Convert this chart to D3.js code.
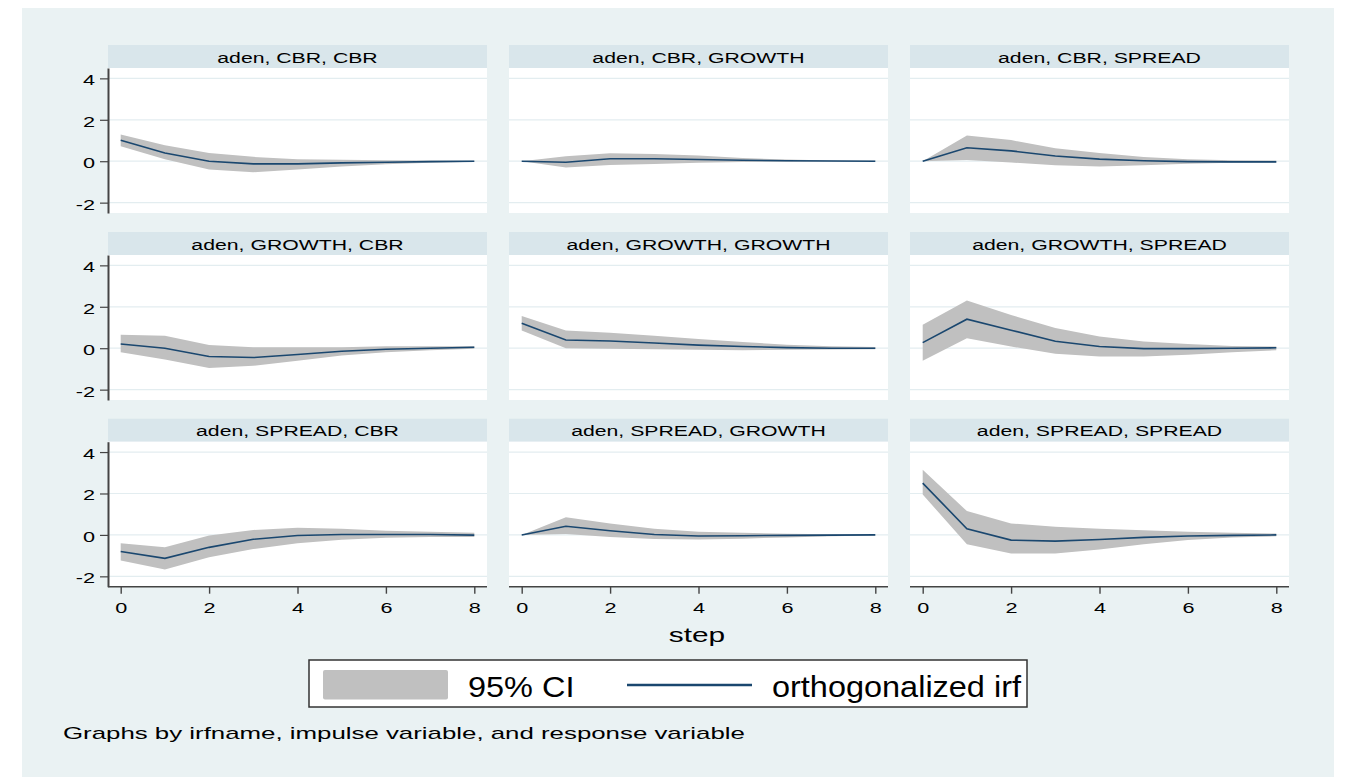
<!DOCTYPE html>
<html>
<head>
<meta charset="utf-8">
<script src="https://cdn.jsdelivr.net/npm/d3@7"></script>
<style>
  body { margin: 0; background: #ffffff; }
  text { font-family: "Liberation Sans", Arial, sans-serif; fill: #000; }
</style>
</head>
<body>
<div id="chart"></div>
<script>
// data: 3x3 panels, steps 0..8
var steps = [0, 1, 2, 3, 4, 5, 6, 7, 8];
var impulses = ["CBR", "GROWTH", "SPREAD"];
var responses = ["CBR", "GROWTH", "SPREAD"];
var yTicks = [-2, 0, 2, 4];
var xTicks = [0, 2, 4, 6, 8];

// orthogonalized irf, panels in row order (impulse) x column order (response)
var irf = [
    [1.01, 0.40, 0.00, -0.13, -0.13, -0.08, -0.05, -0.02, 0.00],
    [0.00, -0.05, 0.12, 0.12, 0.08, 0.05, 0.02, 0.01, 0.00],
    [0.00, 0.65, 0.50, 0.25, 0.10, 0.02, -0.02, -0.03, -0.03],
    [0.20, 0.00, -0.40, -0.45, -0.30, -0.15, -0.05, 0.00, 0.05],
    [1.20, 0.40, 0.35, 0.25, 0.15, 0.08, 0.03, 0.00, 0.00],
    [0.27, 1.40, 0.87, 0.34, 0.08, -0.02, -0.02, 0.00, 0.02],
    [-0.80, -1.13, -0.60, -0.21, -0.03, 0.02, 0.02, 0.02, -0.01],
    [0.00, 0.42, 0.20, 0.02, -0.05, -0.04, -0.02, -0.01, 0.00],
    [2.50, 0.30, -0.25, -0.30, -0.22, -0.12, -0.05, -0.02, 0.00]
];
// 95% CI bounds
var ciLower = [
    [0.72, 0.10, -0.40, -0.53, -0.40, -0.25, -0.15, -0.07, -0.03],
    [0.00, -0.30, -0.18, -0.13, -0.08, -0.04, -0.02, -0.01, -0.01],
    [0.00, 0.06, -0.06, -0.20, -0.25, -0.20, -0.12, -0.08, -0.06],
    [-0.20, -0.55, -0.95, -0.85, -0.60, -0.35, -0.20, -0.10, -0.03],
    [0.85, 0.00, -0.02, -0.05, -0.08, -0.10, -0.08, -0.06, -0.05],
    [-0.60, 0.48, 0.08, -0.27, -0.40, -0.40, -0.32, -0.20, -0.10],
    [-1.24, -1.67, -1.08, -0.68, -0.40, -0.23, -0.14, -0.10, -0.10],
    [0.00, 0.05, -0.10, -0.20, -0.22, -0.18, -0.12, -0.06, -0.03],
    [1.95, -0.45, -0.90, -0.90, -0.70, -0.45, -0.25, -0.12, -0.07]
];
var ciUpper = [
    [1.29, 0.77, 0.40, 0.21, 0.10, 0.07, 0.05, 0.03, 0.02],
    [0.00, 0.24, 0.38, 0.35, 0.27, 0.15, 0.08, 0.04, 0.02],
    [0.00, 1.24, 1.02, 0.62, 0.40, 0.20, 0.10, 0.05, 0.03],
    [0.65, 0.60, 0.15, 0.05, 0.05, 0.05, 0.10, 0.10, 0.10],
    [1.55, 0.85, 0.75, 0.60, 0.45, 0.30, 0.17, 0.10, 0.06],
    [1.13, 2.30, 1.60, 0.97, 0.56, 0.32, 0.20, 0.11, 0.08],
    [-0.40, -0.60, -0.03, 0.24, 0.34, 0.30, 0.20, 0.15, 0.11],
    [0.00, 0.85, 0.55, 0.30, 0.15, 0.10, 0.06, 0.03, 0.02],
    [3.15, 1.15, 0.55, 0.40, 0.30, 0.22, 0.15, 0.10, 0.07]
];

// layout
var W = 1348, H = 780;
var colLeft = [108, 509, 910],
    rowTop = [45, 232, 418.7],
    panelW = 379,
    headerH = 23,
    plotH = 145;

var navy = "#1a476f",
    ciGray = "#c0c0c0",
    regionBg = "#eaf2f3",
    stripBg = "#d9e6eb",
    gridCol = "#e3edf0";

// the picture is stretched horizontally, so text gets a scaleX
function stext(sel, x, y, str, size, sx, anchor) {
    return sel.append("text")
        .attr("transform", "translate(" + x + "," + y + ") scale(" + sx + ",1)")
        .attr("text-anchor", anchor || "start")
        .style("font-size", size + "px")
        .text(str);
}

var svg = d3.select("#chart").append("svg")
    .attr("width", W)
    .attr("height", H);

svg.append("rect").attr("width", W).attr("height", H).attr("fill", "#fff");
svg.append("rect")
    .attr("x", 22).attr("y", 8)
    .attr("width", 1312).attr("height", 769)
    .attr("fill", regionBg);

var x = d3.scaleLinear().domain([0, 8]).range([12.7, panelW - 12.7]);
var y = d3.scaleLinear().domain([-2.5, 4.5]).range([plotH, 0]);

var area = d3.area()
    .x(function (d) { return x(d.step); })
    .y0(function (d) { return y(d.lo); })
    .y1(function (d) { return y(d.hi); });
var line = d3.line()
    .x(function (d) { return x(d.step); })
    .y(function (d) { return y(d.v); });

for (var r = 0; r < 3; r++) {
    for (var c = 0; c < 3; c++) {
        var k = r * 3 + c;
        var g = svg.append("g")
            .attr("transform", "translate(" + colLeft[c] + "," + rowTop[r] + ")");

        // strip header
        g.append("rect")
            .attr("width", panelW).attr("height", headerH)
            .attr("fill", stripBg);
        stext(g, panelW / 2, 17.7, "aden, " + impulses[r] + ", " + responses[c], 15.5, 1.37, "middle");

        var p = g.append("g").attr("transform", "translate(0," + headerH + ")");
        p.append("rect")
            .attr("width", panelW).attr("height", plotH)
            .attr("fill", "#fff");

        // grid lines
        p.selectAll(".grid").data(yTicks).enter().append("line")
            .attr("x1", 0).attr("x2", panelW)
            .attr("y1", function (d) { return y(d); })
            .attr("y2", function (d) { return y(d); })
            .attr("stroke", gridCol)
            .attr("stroke-width", 1.2);

        var rows = steps.map(function (s, i) {
            return { step: s, v: irf[k][i], lo: ciLower[k][i], hi: ciUpper[k][i] };
        });

        p.append("path")
            .datum(rows)
            .attr("d", area)
            .attr("fill", ciGray);
        p.append("path")
            .datum(rows)
            .attr("d", line)
            .attr("fill", "none")
            .attr("stroke", navy)
            .attr("stroke-width", 1.6);

        // y axis on first column
        if (c === 0) {
            var ya = p.append("g")
                .call(d3.axisLeft(y).tickValues(yTicks).tickSize(8).tickSizeOuter(0)
                    .tickFormat(function (d) { return String(d); }));
            ya.select(".domain").attr("stroke", "#444").attr("stroke-width", 2);
            ya.selectAll(".tick line").attr("stroke", "#444").attr("stroke-width", 1.2);
            ya.selectAll(".tick text")
                .attr("x", -13 / 1.4)
                .attr("dy", "0.42em")
                .attr("transform", "scale(1.4,1)")
                .style("font-size", "15.5px")
                .style("font-family", "Liberation Sans, Arial, sans-serif");
        }

        // x axis on last row
        if (r === 2) {
            var xa = p.append("g")
                .attr("transform", "translate(0," + plotH + ")")
                .call(d3.axisBottom(x).tickValues(xTicks).tickSize(7).tickSizeOuter(0));
            xa.select(".domain").remove();
            xa.append("line")
                .attr("x1", 0).attr("x2", panelW)
                .attr("stroke", "#444").attr("stroke-width", 1.5);
            xa.selectAll(".tick line").attr("stroke", "#444").attr("stroke-width", 1.4);
            xa.selectAll(".tick text")
                .attr("y", 15)
                .attr("dy", "0.71em")
                .attr("transform", "scale(1.4,1)")
                .style("font-size", "15.5px")
                .style("font-family", "Liberation Sans, Arial, sans-serif");
        }
    }
}

// x title
stext(svg, 697, 642, "step", 21, 1.42, "middle");

// legend
var lg = svg.append("g");
lg.append("rect")
    .attr("x", 309).attr("y", 660)
    .attr("width", 718).attr("height", 47)
    .attr("fill", "#fff")
    .attr("stroke", "#333").attr("stroke-width", 1.5);
lg.append("rect")
    .attr("x", 323).attr("y", 670)
    .attr("width", 125).attr("height", 29.5)
    .attr("rx", 2)
    .attr("fill", ciGray);
stext(lg, 468, 697, "95% CI", 29, 1.12, "start");
lg.append("line")
    .attr("x1", 627).attr("x2", 752)
    .attr("y1", 685).attr("y2", 685)
    .attr("stroke", navy).attr("stroke-width", 2.5);
stext(lg, 772, 697, "orthogonalized irf", 29, 1.12, "start");

// note
stext(svg, 63, 739, "Graphs by irfname, impulse variable, and response variable", 17, 1.52, "start");
</script>
</body>
</html>
